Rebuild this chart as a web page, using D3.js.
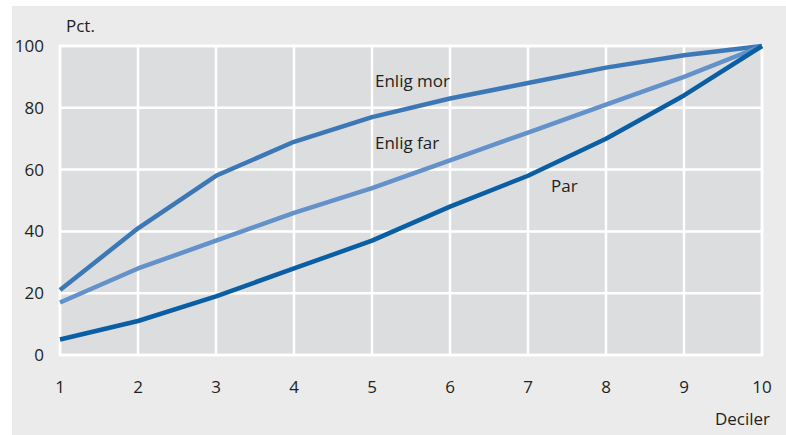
<!DOCTYPE html>
<html>
<head>
<meta charset="utf-8">
<script src="https://cdn.jsdelivr.net/npm/d3@7"></script>
<style>
  body { margin: 0; background: #fff; }
  text { font-family: "Open Sans", "Noto Sans", sans-serif; fill: #231f20; }
</style>
</head>
<body>
<script>
// data
var deciles = [1, 2, 3, 4, 5, 6, 7, 8, 9, 10];
var enligMor = [21, 41, 58, 69, 77, 83, 88, 93, 97, 100];
var enligFar = [17, 28, 37, 46, 54, 63, 72, 81, 90, 100];
var par = [5, 11, 19, 28, 37, 48, 58, 70, 84, 100];
var yTicks = [0, 20, 40, 60, 80, 100];

var series = [
  {name: "Enlig mor", values: enligMor, color: "#3d78b6", lx: 375, ly: 87},
  {name: "Enlig far", values: enligFar, color: "#6391c9", lx: 375, ly: 149},
  {name: "Par", values: par, color: "#0a5ea4", lx: 551, ly: 192}
];

var W = 786, H = 435;
var margin = {top: 46, right: 24, bottom: 80, left: 60},
    width = W - margin.left - margin.right,
    height = H - margin.top - margin.bottom;

var svg = d3.select("body").append("svg")
    .attr("width", W)
    .attr("height", H);

// outer background
svg.append("rect")
    .attr("x", 12).attr("y", 6)
    .attr("width", W - 12).attr("height", H - 6)
    .attr("fill", "#ebebec");

var g = svg.append("g")
    .attr("transform", "translate(" + margin.left + "," + margin.top + ")");

var x = d3.scaleLinear().domain([1, 10]).range([0, width]);
var y = d3.scaleLinear().domain([0, 100]).range([height, 0]);

// plot panel
g.append("rect")
    .attr("width", width).attr("height", height)
    .attr("fill", "#dcdddf")
    .attr("stroke", "#fff")
    .attr("stroke-width", 2.5);

// grid
g.selectAll(".vgrid").data(deciles).enter().append("line")
    .attr("x1", function(d) { return x(d); })
    .attr("x2", function(d) { return x(d); })
    .attr("y1", 0).attr("y2", height)
    .attr("stroke", "#fff").attr("stroke-width", 2.5);

g.selectAll(".hgrid").data(yTicks).enter().append("line")
    .attr("x1", 0).attr("x2", width)
    .attr("y1", function(d) { return y(d); })
    .attr("y2", function(d) { return y(d); })
    .attr("stroke", "#fff").attr("stroke-width", 2.5);

// y-axis labels
g.selectAll(".ylab").data(yTicks).enter().append("text")
    .attr("x", -16)
    .attr("y", function(d) { return y(d); })
    .attr("dy", "0.35em")
    .attr("text-anchor", "end")
    .attr("font-size", 17)
    .text(function(d) { return d; });

// x-axis labels
g.selectAll(".xlab").data(deciles).enter().append("text")
    .attr("x", function(d) { return x(d); })
    .attr("y", height + 32)
    .attr("dy", "0.35em")
    .attr("text-anchor", "middle")
    .attr("font-size", 17)
    .text(function(d) { return d; });

// lines
var line = d3.line()
    .x(function(d, i) { return x(deciles[i]); })
    .y(function(d) { return y(d); });

g.selectAll(".series").data(series).enter().append("path")
    .attr("d", function(s) { return line(s.values); })
    .attr("fill", "none")
    .attr("stroke", function(s) { return s.color; })
    .attr("stroke-width", 4.5)
    .attr("stroke-linejoin", "round");

// series labels
svg.selectAll(".slab").data(series).enter().append("text")
    .attr("x", function(s) { return s.lx; })
    .attr("y", function(s) { return s.ly; })
    .attr("font-size", 17)
    .text(function(s) { return s.name; });

// axis titles
svg.append("text")
    .attr("x", 66).attr("y", 32)
    .attr("font-size", 17)
    .text("Pct.");

svg.append("text")
    .attr("x", 770).attr("y", 425)
    .attr("text-anchor", "end")
    .attr("font-size", 17)
    .text("Deciler");
</script>
</body>
</html>
